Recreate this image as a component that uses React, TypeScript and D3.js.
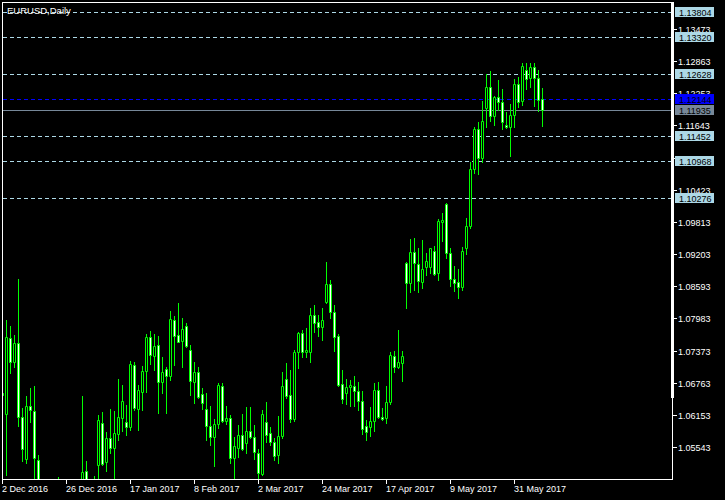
import * as d3 from 'd3';

const title = 'EURUSD,Daily';

// daily bars, first bar = 2 Dec 2016
const open = [
  1.0657, 1.06169, 1.0761, 1.07155, 1.07516, 1.06112, 1.05315, 1.0632, 1.06226, 1.05296,
  1.0411, 1.0449, 1.0402, 1.0381, 1.0426, 1.044, 1.0456, 1.0458, 1.0448, 1.0409,
  1.0482, 1.05087, 1.046, 1.0402, 1.05201, 1.05998, 1.05258, 1.05713, 1.05523, 1.05789,
  1.06093, 1.06017, 1.05922, 1.07098, 1.06263, 1.06586, 1.06984, 1.07629, 1.07269, 1.07478,
  1.06776, 1.07022, 1.0689, 1.07952, 1.07667, 1.07554, 1.07838, 1.07383, 1.06776, 1.06965,
  1.06548, 1.06263, 1.05941, 1.05732, 1.05979, 1.067, 1.06036, 1.06093, 1.05334, 1.05523,
  1.0577, 1.05618, 1.05846, 1.05732, 1.05429, 1.0503, 1.06017, 1.05808, 1.05637, 1.05391,
  1.05751, 1.06833, 1.06529, 1.06074, 1.07345, 1.07705, 1.07345, 1.07345, 1.08047, 1.07914,
  1.07819, 1.08293, 1.08635, 1.08104, 1.07648, 1.06738, 1.06567, 1.06681, 1.067, 1.06605,
  1.06415, 1.05941, 1.05922, 1.06036, 1.06624, 1.06112, 1.06093, 1.06396, 1.07269, 1.0706,
  1.07136, 1.09033, 1.08654, 1.09242, 1.09014, 1.08673, 1.08958, 1.08958, 1.09261, 1.08844,
  1.09811, 1.10153, 1.09223, 1.0873, 1.08673, 1.08578, 1.09318, 1.09735, 1.10817, 1.11576,
  1.11026, 1.11974, 1.12373, 1.11822, 1.12183, 1.12088, 1.11652, 1.11614, 1.11841, 1.12429,
  1.12107, 1.12695, 1.12543, 1.12752, 1.12543, 1.12145,
];
const high = [
  1.069, 1.07952, 1.07838, 1.07667, 1.0873, 1.06282, 1.0651, 1.06662, 1.067, 1.05391,
  1.0488, 1.0466, 1.0425, 1.0441, 1.0497, 1.0475, 1.0468, 1.0471, 1.0476, 1.0488,
  1.0651, 1.05277, 1.0485, 1.0499, 1.0615, 1.06207, 1.05827, 1.06263, 1.06226, 1.06833,
  1.06719, 1.06339, 1.07174, 1.07155, 1.06719, 1.07079, 1.07686, 1.07743, 1.07686, 1.07648,
  1.0725, 1.0706, 1.08123, 1.08028, 1.08274, 1.0799, 1.07895, 1.07478, 1.07155, 1.0706,
  1.06662, 1.06567, 1.0632, 1.06074, 1.06757, 1.06757, 1.0632, 1.0615, 1.05732, 1.0596,
  1.06169, 1.06301, 1.06301, 1.0596, 1.05504, 1.06245, 1.06396, 1.05922, 1.05713, 1.06131,
  1.06965, 1.07136, 1.07003, 1.07383, 1.07724, 1.07762, 1.078, 1.0818, 1.08237, 1.08047,
  1.0818, 1.09052, 1.08711, 1.08237, 1.07686, 1.07003, 1.06833, 1.06814, 1.0689, 1.06776,
  1.06605, 1.06055, 1.06301, 1.06757, 1.06776, 1.06282, 1.067, 1.07345, 1.07364, 1.07762,
  1.07364, 1.09052, 1.09489, 1.09508, 1.09318, 1.0947, 1.09223, 1.09318, 1.09356, 1.09868,
  1.09982, 1.10172, 1.09318, 1.08977, 1.0892, 1.09337, 1.09887, 1.1095, 1.11614, 1.11708,
  1.12107, 1.12619, 1.12676, 1.12202, 1.12505, 1.12335, 1.11898, 1.1205, 1.12524, 1.12562,
  1.12828, 1.12828, 1.12828, 1.12828, 1.12695, 1.12354,
];
const low = [
  1.063, 1.05011, 1.06946, 1.0706, 1.05941, 1.05277, 1.05239, 1.06017, 1.048, 1.0366,
  1.0394, 1.0387, 1.0352, 1.037, 1.0415, 1.043, 1.044, 1.0425, 1.04, 1.0405,
  1.0475, 1.045, 1.034, 1.039, 1.0485, 1.05201, 1.05087, 1.05429, 1.046, 1.05675,
  1.05846, 1.0577, 1.05865, 1.06245, 1.05865, 1.06245, 1.06586, 1.07117, 1.07003, 1.06188,
  1.06567, 1.06188, 1.06814, 1.07098, 1.07535, 1.0706, 1.0744, 1.06529, 1.06377, 1.06472,
  1.06263, 1.05675, 1.0558, 1.05182, 1.05903, 1.06017, 1.05979, 1.05239, 1.04936, 1.05353,
  1.05486, 1.05429, 1.05713, 1.05315, 1.049, 1.05011, 1.05637, 1.0558, 1.05296, 1.05239,
  1.05713, 1.06472, 1.06017, 1.06036, 1.07041, 1.0725, 1.0725, 1.07155, 1.07724, 1.07648,
  1.07573, 1.08274, 1.0799, 1.07364, 1.067, 1.06377, 1.06358, 1.0632, 1.0632, 1.06245,
  1.05789, 1.05675, 1.05751, 1.05846, 1.06093, 1.06055, 1.05998, 1.06358, 1.06965, 1.07041,
  1.06795, 1.0818, 1.08483, 1.08521, 1.08483, 1.08559, 1.08806, 1.08844, 1.08806, 1.08711,
  1.09451, 1.09128, 1.08597, 1.08502, 1.08369, 1.08521, 1.09204, 1.09697, 1.10741, 1.10722,
  1.1095, 1.11614, 1.11727, 1.11652, 1.11936, 1.11576, 1.11595, 1.11064, 1.11614, 1.11993,
  1.12031, 1.12335, 1.12373, 1.12012, 1.11917, 1.11633,
];
const close = [
  1.0653, 1.07629, 1.07155, 1.07516, 1.06112, 1.05504, 1.0632, 1.06245, 1.05334, 1.0411,
  1.0449, 1.0402, 1.0381, 1.0426, 1.044, 1.0456, 1.0458, 1.0448, 1.0409, 1.0482,
  1.05068, 1.046, 1.0402, 1.049, 1.06055, 1.0522, 1.05713, 1.05523, 1.05808, 1.06112,
  1.06415, 1.05922, 1.07117, 1.06282, 1.06624, 1.06984, 1.07629, 1.07288, 1.07459, 1.06776,
  1.06965, 1.0689, 1.07971, 1.07648, 1.07535, 1.07781, 1.07459, 1.06795, 1.06965, 1.06491,
  1.06377, 1.05941, 1.05732, 1.05979, 1.06719, 1.06036, 1.06093, 1.05334, 1.05562, 1.0577,
  1.05504, 1.05846, 1.05732, 1.05448, 1.05049, 1.06169, 1.0577, 1.05637, 1.05372, 1.05751,
  1.067, 1.0651, 1.06074, 1.07345, 1.07705, 1.07345, 1.07383, 1.08047, 1.07895, 1.07819,
  1.07952, 1.08635, 1.08104, 1.07629, 1.06719, 1.06453, 1.06681, 1.06719, 1.06605, 1.06415,
  1.05884, 1.05827, 1.06036, 1.06624, 1.06112, 1.06074, 1.06396, 1.07288, 1.0706, 1.07155,
  1.07269, 1.08654, 1.09242, 1.09033, 1.08692, 1.0892, 1.09071, 1.09318, 1.08825, 1.0983,
  1.09849, 1.09223, 1.0873, 1.08654, 1.08578, 1.09261, 1.09735, 1.10817, 1.11576, 1.11026,
  1.11727, 1.12373, 1.11822, 1.12183, 1.12088, 1.11708, 1.11614, 1.11841, 1.12429, 1.12088,
  1.12771, 1.12524, 1.12752, 1.12543, 1.12126, 1.11935,
];

const dateTickBars = [0, 16, 32, 48, 64, 80, 96, 112, 128];
const dateLabels = [
  '2 Dec 2016', '26 Dec 2016', '17 Jan 2017', '8 Feb 2017', '2 Mar 2017',
  '24 Mar 2017', '17 Apr 2017', '9 May 2017', '31 May 2017',
];
const priceTicks = [
  1.05543, 1.06153, 1.06763, 1.07373, 1.07983, 1.08593, 1.09203,
  1.09813, 1.10423, 1.11033, 1.11643, 1.12253, 1.12863, 1.13473,
];
const levelLines = [1.13804, 1.1332, 1.12628, 1.11452, 1.10968, 1.10276];
const alertLevel = 1.12144;
const bidPrice = 1.11935;

const font = '"Liberation Sans", Arial, sans-serif';

export default function App() {
  const n = open.length;
  const x = d3.scaleLinear().domain([0, n - 1]).range([2.5, 2.5 + 4 * (n - 1)]);
  const y = d3.scaleLinear()
    .domain([priceTicks[0], priceTicks[priceTicks.length - 1]])
    .range([447, 29]);
  const py = (v: number) => Math.round(y(v));
  const fmt = d3.format('.5f');

  const candles = open.map((o, i) => {
    const c = close[i];
    const cx = x(i);
    const top = py(Math.max(o, c));
    const bot = py(Math.min(o, c));
    return (
      <g key={i}>
        <line x1={cx} x2={cx} y1={py(high[i])} y2={py(low[i]) + 1} stroke="#00ff00" />
        <path
          d={`M${cx - 1},${top + 0.5}h2v${bot - top}h-2Z`}
          fill={c < o ? '#ffffff' : '#000000'}
          stroke="#00ff00"
        />
      </g>
    );
  });

  return (
    <svg width={725} height={500} style={{ position: 'absolute', left: 0, top: 0 }}>
      <defs>
        <clipPath id="plot">
          <rect x={3} y={3} width={669} height={476} />
        </clipPath>
      </defs>
      <rect width={725} height={500} fill="#000" />

      <g clipPath="url(#plot)">
        {levelLines.map((v) => (
          <line key={v} x1={3} x2={672} y1={py(v) + 0.5} y2={py(v) + 0.5}
            stroke="#add8e6" strokeDasharray="4,3" />
        ))}
        <line x1={3} x2={672} y1={py(alertLevel) + 0.5} y2={py(alertLevel) + 0.5}
          stroke="#0000ff" strokeDasharray="4,3" />
        <line x1={3} x2={672} y1={py(bidPrice) + 0.5} y2={py(bidPrice) + 0.5} stroke="#778899" />
        {candles}
      </g>

      {/* frame */}
      <rect x={2.5} y={2.5} width={670} height={477} fill="none" stroke="#fff" />
      <rect x={671} y={2} width={3} height={396} fill="#fff" />

      <text x={7} y={14} fill="#fff" fontFamily={font} fontSize={9.5}>{title}</text>

      {/* price axis */}
      {priceTicks.map((v) => (
        <g key={v}>
          <line x1={672} x2={677} y1={py(v) + 0.5} y2={py(v) + 0.5} stroke="#fff" />
          <text x={678} y={py(v) + 3.5} fill="#fff" fontFamily={font} fontSize={9}>{fmt(v)}</text>
        </g>
      ))}
      {levelLines.map((v) => (
        <g key={v}>
          <rect x={675} y={py(v) - 5} width={39} height={10} fill="#add8e6" />
          <text x={679} y={py(v) + 3.5} fill="#000" fontFamily={font} fontSize={9}>{fmt(v)}</text>
        </g>
      ))}
      <rect x={675} y={py(alertLevel) - 5} width={39} height={10} fill="#0000ff" />
      <text x={679} y={py(alertLevel) + 3.5} fill="#000" fontFamily={font} fontSize={9}>{fmt(alertLevel)}</text>
      <rect x={675} y={py(bidPrice) - 5} width={39} height={10} fill="#778899" />
      <text x={679} y={py(bidPrice) + 3.5} fill="#000" fontFamily={font} fontSize={9}>{fmt(bidPrice)}</text>

      {/* time axis */}
      {dateTickBars.map((b, k) => (
        <g key={b}>
          <line x1={x(b)} x2={x(b)} y1={480} y2={484} stroke="#fff" />
          <text x={x(b) - 0.5} y={492} fill="#fff" fontFamily={font} fontSize={9}>{dateLabels[k]}</text>
        </g>
      ))}
    </svg>
  );
}
